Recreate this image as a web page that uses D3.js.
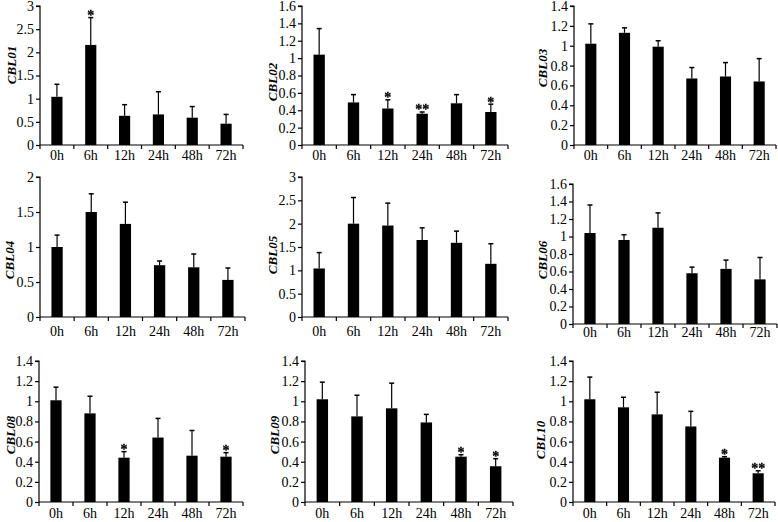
<!DOCTYPE html>
<html>
<head>
<meta charset="utf-8">
<script src="https://cdn.jsdelivr.net/npm/d3@7"></script>
<style>
  html, body { margin: 0; padding: 0; background: #fff; }
  svg { display: block; }
  svg text { font-family: "Liberation Serif", "Times New Roman", "DejaVu Serif", serif; font-variant-emoji: text; }
</style>
</head>
<body>
<svg id="chart" width="778" height="522"></svg>
<script>
// ---------------- data ----------------
const categories = ["0h", "6h", "12h", "24h", "48h", "72h"];
const genes = ["CBL01", "CBL02", "CBL03", "CBL04", "CBL05", "CBL06", "CBL08", "CBL09", "CBL10"];

// mean expression
const cbl01 = [1.04, 2.16, 0.63, 0.66, 0.59, 0.46];
const cbl02 = [1.04, 0.49, 0.42, 0.36, 0.48, 0.38];
const cbl03 = [1.02, 1.13, 0.99, 0.67, 0.69, 0.64];
const cbl04 = [1.00, 1.50, 1.33, 0.74, 0.71, 0.53];
const cbl05 = [1.04, 2.00, 1.96, 1.65, 1.59, 1.14];
const cbl06 = [1.04, 0.96, 1.10, 0.58, 0.63, 0.51];
const cbl08 = [1.01, 0.88, 0.44, 0.64, 0.46, 0.45];
const cbl09 = [1.02, 0.85, 0.93, 0.79, 0.45, 0.355];
const cbl10 = [1.02, 0.94, 0.87, 0.75, 0.44, 0.285];

// upper end of error bars
const cbl01Err = [1.31, 2.75, 0.87, 1.15, 0.83, 0.66];
const cbl02Err = [1.34, 0.58, 0.52, 0.38, 0.58, 0.47];
const cbl03Err = [1.22, 1.18, 1.05, 0.78, 0.83, 0.87];
const cbl04Err = [1.17, 1.76, 1.64, 0.80, 0.90, 0.70];
const cbl05Err = [1.38, 2.56, 2.44, 1.91, 1.84, 1.57];
const cbl06Err = [1.36, 1.02, 1.27, 0.65, 0.73, 0.76];
const cbl08Err = [1.14, 1.05, 0.50, 0.83, 0.71, 0.49];
const cbl09Err = [1.19, 1.06, 1.18, 0.87, 0.47, 0.43];
const cbl10Err = [1.24, 1.04, 1.09, 0.90, 0.45, 0.31];

// significance marks
const cbl01Sig = ["", "*", "", "", "", ""];
const cbl02Sig = ["", "", "*", "**", "", "*"];
const cbl03Sig = ["", "", "", "", "", ""];
const cbl04Sig = ["", "", "", "", "", ""];
const cbl05Sig = ["", "", "", "", "", ""];
const cbl06Sig = ["", "", "", "", "", ""];
const cbl08Sig = ["", "", "*", "", "", "*"];
const cbl09Sig = ["", "", "", "", "*", "*"];
const cbl10Sig = ["", "", "", "", "*", "**"];

// y-axis tick labels
const ticks3 = [0, 0.5, 1, 1.5, 2, 2.5, 3];
const ticks2 = [0, 0.5, 1, 1.5, 2];
const ticks16 = [0, 0.2, 0.4, 0.6, 0.8, 1, 1.2, 1.4, 1.6];
const ticks14 = [0, 0.2, 0.4, 0.6, 0.8, 1, 1.2, 1.4];

const values = [cbl01, cbl02, cbl03, cbl04, cbl05, cbl06, cbl08, cbl09, cbl10];
const errors = [cbl01Err, cbl02Err, cbl03Err, cbl04Err, cbl05Err, cbl06Err, cbl08Err, cbl09Err, cbl10Err];
const sigs = [cbl01Sig, cbl02Sig, cbl03Sig, cbl04Sig, cbl05Sig, cbl06Sig, cbl08Sig, cbl09Sig, cbl10Sig];
const yTicks = [ticks3, ticks16, ticks14, ticks2, ticks3, ticks16, ticks14, ticks14, ticks14];

// ---------------- layout ----------------
const layout = [
  {x0: 40,  x1: 243, top: 6,   bot: 145, lab: 161, tx: 16,  ty: 65},
  {x0: 302, x1: 508, top: 6,   bot: 145, lab: 161, tx: 277, ty: 82},
  {x0: 574, x1: 776, top: 6,   bot: 145, lab: 161, tx: 547, ty: 68},
  {x0: 40,  x1: 245, top: 177, bot: 317, lab: 337, tx: 14,  ty: 260},
  {x0: 302, x1: 508, top: 177, bot: 317, lab: 337, tx: 277, ty: 255},
  {x0: 573, x1: 777, top: 184, bot: 324, lab: 338, tx: 547, ty: 260},
  {x0: 39,  x1: 243, top: 361, bot: 502, lab: 519, tx: 15,  ty: 435},
  {x0: 305, x1: 513, top: 361, bot: 502, lab: 519, tx: 279, ty: 435},
  {x0: 573, x1: 775, top: 361, bot: 502, lab: 519, tx: 545, ty: 440}
];

const FONT = '"Liberation Serif", "Times New Roman", "DejaVu Serif", serif';
const TICK_FS = 14;
const svg = d3.select("#chart");
const fmt = v => String(+v.toFixed(1));

// greyscale filter for the star glyphs
svg.append("defs").append("filter").attr("id", "grey")
  .attr("x", "-20%").attr("y", "-20%").attr("width", "140%").attr("height", "140%")
  .append("feColorMatrix").attr("type", "saturate").attr("values", 0);

genes.forEach((gene, i) => {
  const L = layout[i];
  const ticks = yTicks[i];
  const g = svg.append("g");

  const x = d3.scaleBand().domain(categories).range([L.x0, L.x1]).padding(0);
  const y = d3.scaleLinear().domain([0, d3.max(ticks)]).range([L.bot, L.top]);
  const bw = x.bandwidth() * 0.33;

  // bars
  g.selectAll("rect.bar").data(categories).join("rect")
    .attr("class", "bar")
    .attr("x", c => x(c) + (x.bandwidth() - bw) / 2)
    .attr("width", bw)
    .attr("y", (c, j) => y(values[i][j]))
    .attr("height", (c, j) => y(0) - y(values[i][j]))
    .attr("fill", "#000");

  // error bars (upper only)
  g.selectAll("line.err").data(categories).join("line")
    .attr("class", "err")
    .attr("x1", c => x(c) + x.bandwidth() / 2)
    .attr("x2", c => x(c) + x.bandwidth() / 2)
    .attr("y1", (c, j) => y(values[i][j]))
    .attr("y2", (c, j) => y(errors[i][j]))
    .attr("stroke", "#000").attr("stroke-width", 1.2);
  g.selectAll("line.cap").data(categories).join("line")
    .attr("class", "cap")
    .attr("x1", c => x(c) + x.bandwidth() / 2 - 2.5)
    .attr("x2", c => x(c) + x.bandwidth() / 2 + 2.5)
    .attr("y1", (c, j) => y(errors[i][j]))
    .attr("y2", (c, j) => y(errors[i][j]))
    .attr("stroke", "#000").attr("stroke-width", 1.5);

  // significance stars
  g.append("g").attr("filter", "url(#grey)")
    .selectAll("text.sig").data(categories).join("text")
    .attr("class", "sig")
    .attr("x", c => x(c) + x.bandwidth() / 2)
    .attr("y", (c, j) => y(errors[i][j]) + 2.5)
    .attr("text-anchor", "middle")
    .style("font-family", FONT)
    .style("font-size", "14px")
    .style("font-weight", "bold")
    .attr("fill", "#000")
    .attr("stroke", "#000")
    .attr("stroke-width", 0.3)
    .text((c, j) => sigs[i][j]);

  // y axis
  const ya = g.append("g")
    .attr("transform", `translate(${L.x0},0)`)
    .call(d3.axisLeft(y).tickValues(ticks).tickSize(4).tickPadding(2).tickFormat(fmt));
  ya.attr("font-family", null);
  ya.select(".domain").attr("stroke", "#000").attr("stroke-width", 1.2).attr("d", `M-4,${L.top}H0V${L.bot}`);
  ya.selectAll(".tick line").attr("stroke", "#000").attr("stroke-width", 1.2);
  ya.selectAll(".tick text").style("font-size", TICK_FS + "px").style("font-family", FONT).attr("fill", "#000");

  // x axis: labels centred in bands, tick marks at band boundaries
  const xa = g.append("g")
    .attr("transform", `translate(0,${L.bot})`)
    .call(d3.axisBottom(x).tickSize(0).tickPadding(L.lab - L.bot - 0.71 * TICK_FS - 1));
  xa.attr("font-family", null);
  xa.select(".domain").attr("stroke", "#000").attr("stroke-width", 1.2).attr("d", `M${L.x0},0H${L.x1}`);
  xa.selectAll(".tick text").style("font-size", TICK_FS + "px").style("font-family", FONT).attr("fill", "#000");
  const bounds = categories.map(c => x(c)).concat([x.range()[1]]);
  xa.selectAll("line.bt").data(bounds).join("line")
    .attr("class", "bt")
    .attr("x1", d => d).attr("x2", d => d)
    .attr("y1", 0).attr("y2", 4)
    .attr("stroke", "#000").attr("stroke-width", 1.2);

  // gene title
  g.append("text")
    .attr("transform", `translate(${L.tx},${L.ty}) rotate(-90)`)
    .attr("text-anchor", "middle")
    .style("font-family", FONT)
    .style("font-size", "13px")
    .style("font-weight", "bold")
    .style("font-style", "italic")
    .attr("fill", "#000")
    .text(gene);
});
</script>
</body>
</html>
